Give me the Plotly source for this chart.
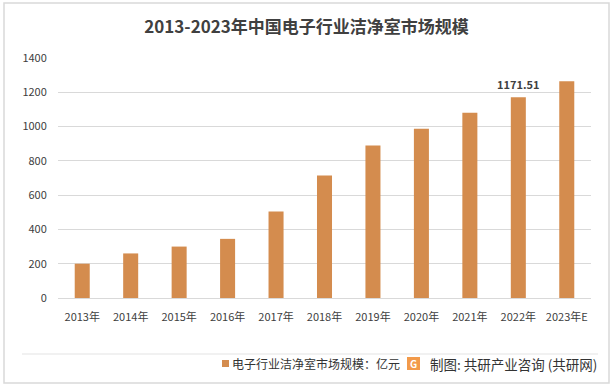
import plotly.graph_objects as go

categories = ["2013年", "2014年", "2015年", "2016年", "2017年", "2018年",
              "2019年", "2020年", "2021年", "2022年", "2023年E"]
values = [200, 260, 300, 345, 505, 715, 890, 988, 1080, 1171.51, 1265]
labelled_index = 9
series_name = "电子行业洁净室市场规模：亿元"
title_text = "2013-2023年中国电子行业洁净室市场规模"
source_text = "制图: 共研产业咨询 (共研网)"
y_ticks = [0, 200, 400, 600, 800, 1000, 1200, 1400]

W, H = 616, 387
L, R, T, B = 58, 25, 58, 89
pw, ph = W - L - R, H - T - B

FONT = "Noto Sans CJK SC, Liberation Sans, sans-serif"
TXT = "#404040"
BAR = "#D48C4E"

fig = go.Figure()
fig.add_trace(go.Bar(
    x=categories, y=values, name=series_name,
    marker=dict(color=BAR, line=dict(width=0)),
    showlegend=False,
))

def px_x(x):
    return (x - L) / pw

def px_y(y):
    return (H - B - y) / ph

fig.update_layout(
    width=W, height=H,
    margin=dict(l=L, r=R, t=T, b=B, autoexpand=False),
    paper_bgcolor="white", plot_bgcolor="white",
    bargap=0.69,
    showlegend=False,
    title=dict(text="<b>" + title_text + "</b>", x=306.5 / W, xref="container", xanchor="center",
               y=1 - 27 / H, yref="container", yanchor="middle",
               font=dict(family=FONT, size=17, color=TXT)),
    xaxis=dict(showgrid=False, showline=False, ticks="outside", ticklen=9,
               tickcolor="rgba(0,0,0,0)", automargin=False,
               tickfont=dict(family=FONT, size=11, color=TXT)),
    yaxis=dict(range=[0, 1400], tickvals=y_ticks, showgrid=True, gridcolor="#d9d9d9",
               gridwidth=1, zeroline=True, zerolinecolor="#d9d9d9", zerolinewidth=1,
               showline=False, ticks="outside", ticklen=8, tickcolor="rgba(0,0,0,0)",
               automargin=False,
               tickfont=dict(family=FONT, size=11, color=TXT)),
    font=dict(family=FONT),
)

# data label on the 2022 bar
fig.add_annotation(x=categories[labelled_index], y=values[labelled_index],
                   text="<b>%.2f</b>" % values[labelled_index], showarrow=False,
                   yanchor="bottom", yshift=3,
                   font=dict(family=FONT, size=11, color=TXT))

shapes = [
    dict(type="rect", xref="paper", yref="paper",
         x0=px_x(4), x1=px_x(609), y0=px_y(383), y1=px_y(3),
         line=dict(color="#d9d9d9", width=1.5), fillcolor="rgba(0,0,0,0)", layer="below"),
    dict(type="line", xref="paper", yref="paper",
         x0=px_x(22), x1=px_x(598), y0=px_y(354), y1=px_y(354),
         line=dict(color="#e3e3e3", width=1)),
    # legend swatch
    dict(type="rect", xref="paper", yref="paper",
         x0=px_x(222), x1=px_x(229), y0=px_y(367), y1=px_y(360),
         line=dict(width=0), fillcolor=BAR),
    # logo
    dict(type="rect", xref="paper", yref="paper",
         x0=px_x(407), x1=px_x(420), y0=px_y(370), y1=px_y(357),
         line=dict(width=0), fillcolor="#F29A4A"),
]
fig.update_layout(shapes=shapes)

fig.add_annotation(text=series_name, xref="paper", yref="paper", x=px_x(230), y=px_y(363.5),
                   showarrow=False, font=dict(family=FONT, size=12, color="#333333"),
                   xanchor="left", yanchor="middle")
fig.add_annotation(text="<b>G</b>", xref="paper", yref="paper", x=px_x(413.5), y=px_y(363.5),
                   showarrow=False, font=dict(family=FONT, size=10, color="white"),
                   xanchor="center", yanchor="middle")
fig.add_annotation(text=source_text, xref="paper", yref="paper", x=px_x(428), y=px_y(363.5),
                   showarrow=False, font=dict(family=FONT, size=13.5, color="#333333"),
                   xanchor="left", yanchor="middle")

fig.write_html("out.html", config={"displayModeBar": False},
               post_script="document.body.style.margin='0';document.body.style.overflow='hidden';")
